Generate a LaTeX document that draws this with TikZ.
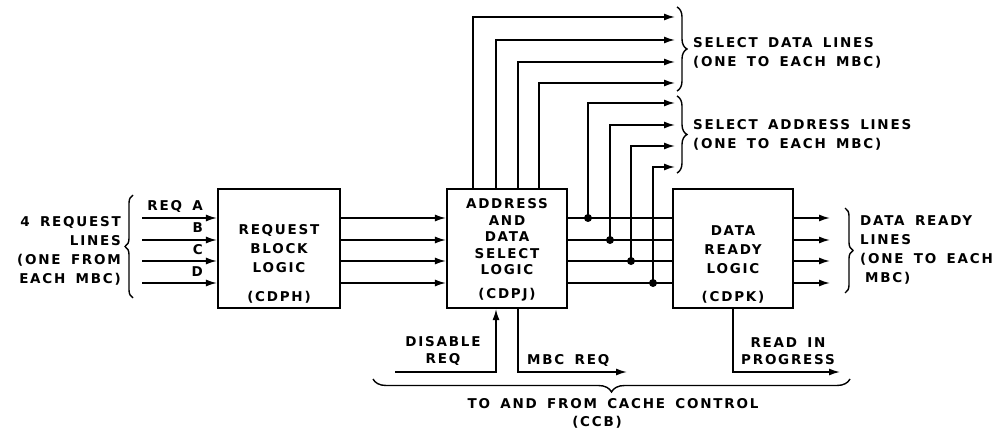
\documentclass[tikz,border=0pt]{standalone}
\usepackage{fontspec}
\setmainfont{DejaVu Sans}[LetterSpace=13, WordSpace=1.6, BoldFont={DejaVu Sans Bold}]
\usetikzlibrary{arrows.meta,decorations.pathreplacing}
\begin{document}
\begin{tikzpicture}[x=1pt,y=-1pt,
  lbl/.style={font=\fontsize{13.5}{19}\selectfont\bfseries, inner sep=0pt},
  tight/.style={font=\fontsize{13.5}{16.5}\selectfont\bfseries, inner sep=0pt},
  blk/.style={draw, line width=2.2pt, inner sep=0pt},
  ln/.style={line width=1.5pt},
  arr/.style={line width=1.5pt, -{Latex[length=11pt,width=7pt]}},
  brc/.style={line width=1.4pt, decorate, decoration={brace, amplitude=#1}},
  dot/.style={circle, fill, inner sep=0pt, minimum size=8pt}]
\useasboundingbox (0,0) rectangle (995,438);

% blocks
\node[blk, minimum width=122pt, minimum height=119pt] (b1) at (279,248.5) {};
\node[blk, minimum width=120pt, minimum height=119pt] (b2) at (507,248.5) {};
\node[blk, minimum width=120pt, minimum height=119pt] (b3) at (733,248.5) {};

\node[lbl, align=center] (t1) at (279,249) {REQUEST\\BLOCK\\LOGIC};
\node[lbl] (c1) at (279,297) {(CDPH)};
\node[tight, align=center] (t2) at (507,237) {ADDRESS\\AND\\DATA\\SELECT\\LOGIC};
\node[lbl] (c2) at (507,295) {(CDPJ)};
\node[lbl, align=center] (t3) at (733,250) {DATA\\READY\\LOGIC};
\node[lbl] (c3) at (733,297) {(CDPK)};

% rows
\coordinate (r1) at (0,218);
\coordinate (r2) at (0,240);
\coordinate (r3) at (0,261);
\coordinate (r4) at (0,283);

% inputs
\coordinate (i1) at (142,218);
\coordinate (i2) at (142,240);
\coordinate (i3) at (142,261);
\coordinate (i4) at (142,283);
\foreach \k in {1,2,3,4} {
  \draw[arr] (i\k) -- (b1.west |- i\k);
  \draw[arr] (b1.east |- r\k) -- (b2.west |- r\k);
  \draw[ln] (b2.east |- r\k) -- (b3.west |- r\k);
}
\node[lbl, anchor=east] (la) at (203,206) {REQ A};
\node[lbl, anchor=east] (lb) at (203,228) {B};
\node[lbl, anchor=east] (lc) at (203,250) {C};
\node[lbl, anchor=east] (ld) at (203,272) {D};

\draw[brc=8] (133,298) -- (133,195);
\node[lbl, align=right, anchor=east] (inl) at (121,251) {4 REQUEST\\LINES\\(ONE FROM\\EACH MBC)};

% select data lines
\coordinate (v1) at (473,17);  \coordinate (d1) at (675,17);
\coordinate (v2) at (496,40);  \coordinate (d2) at (675,40);
\coordinate (v3) at (518,62);  \coordinate (d3) at (675,62);
\coordinate (v4) at (539,83);  \coordinate (d4) at (675,83);
\foreach \k in {1,2,3,4} {
  \draw[arr] (b2.north -| v\k) -- (v\k) -- (d\k);
}

% select address lines
\node[dot] (p1) at (588,218) {};
\node[dot] (p2) at (610,240) {};
\node[dot] (p3) at (631,261) {};
\node[dot] (p4) at (653,283) {};
\coordinate (a1) at (675,103);
\coordinate (a2) at (675,125);
\coordinate (a3) at (675,146);
\coordinate (a4) at (675,167);
\foreach \k in {1,2,3,4} {
  \draw[arr] (p\k.center) |- (a\k);
}

\draw[brc=10] (677,7) -- (677,91);
\draw[brc=10] (677,96) -- (677,173);
\node[lbl, align=left, anchor=west] (sd) at (693,52.5) {SELECT DATA LINES\\(ONE TO EACH MBC)};
\node[lbl, align=left, anchor=west] (sa) at (693,135) {SELECT ADDRESS LINES\\(ONE TO EACH MBC)};

% data ready lines
\coordinate (o1) at (830,218);
\coordinate (o2) at (830,240);
\coordinate (o3) at (830,261);
\coordinate (o4) at (830,283);
\foreach \k in {1,2,3,4} {
  \draw[arr] (b3.east |- o\k) -- (o\k);
}
\draw[brc=8] (845,208) -- (845,293);
\node[lbl, align=left, anchor=west] (dr) at (860,250) {DATA READY\\LINES\\(ONE TO EACH\\\hspace*{5pt}MBC)};

% bottom connections
\coordinate (dis) at (395,372);
\coordinate (dx) at (496,372);
\draw[arr] (dis) -- (dx) -- (b2.south -| dx);
\node[tight, align=center] (dl) at (443,351) {DISABLE\\REQ};

\coordinate (mx) at (518,372);
\coordinate (me) at (627,372);
\draw[arr] (b2.south -| mx) -- (mx) -- (me);
\node[lbl, anchor=west] (ml) at (527,360) {MBC REQ};

\coordinate (rx) at (733,372);
\coordinate (re) at (840,372);
\draw[arr] (b3.south -| rx) -- (rx) -- (re);
\node[tight, align=center] (rl) at (788,351) {READ IN\\PROGRESS};

\draw[brc=13] (850,379) -- (373,379);
\node[lbl] (cc) at (613,404) {TO AND FROM CACHE CONTROL};
\node[lbl] (ccb) at (597,422) {(CCB)};
\end{tikzpicture}
\end{document}
